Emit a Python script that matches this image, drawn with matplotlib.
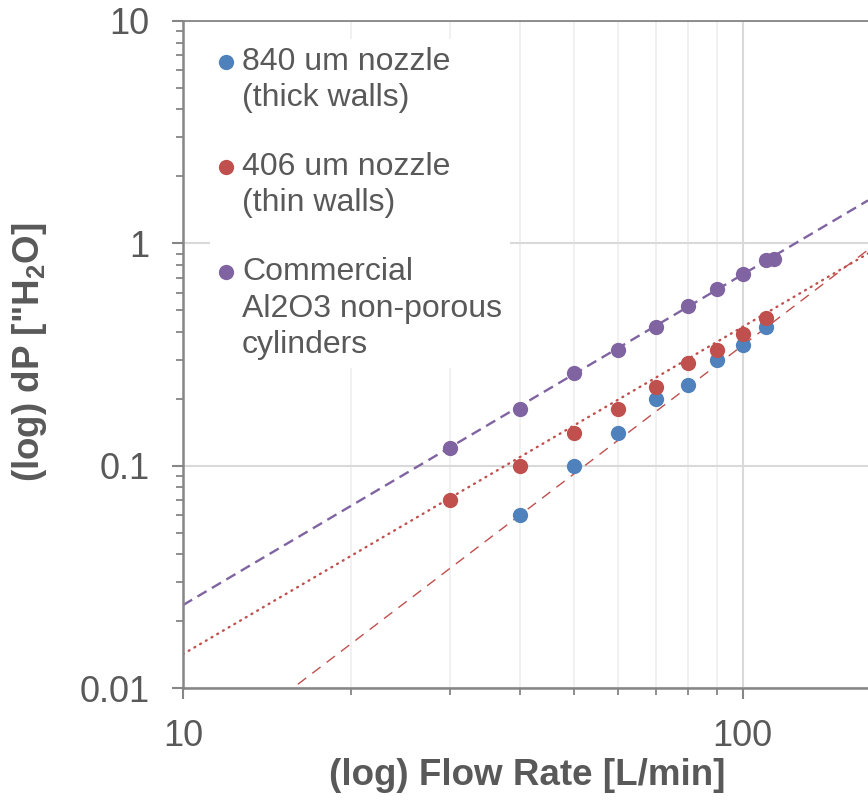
import matplotlib
matplotlib.use("Agg")
import matplotlib.pyplot as plt
import matplotlib.ticker as mticker
from matplotlib.legend_handler import HandlerLine2D
import numpy as np

plt.rcParams["font.family"] = ["Liberation Sans", "DejaVu Sans"]
plt.rcParams["mathtext.fontset"] = "custom"
plt.rcParams["mathtext.rm"] = "Liberation Sans"
plt.rcParams["mathtext.bf"] = "Liberation Sans:bold"

# data
thick_flow = [40, 50, 60, 70, 80, 90, 100, 110]
thick_dp = [0.06, 0.10, 0.14, 0.20, 0.23, 0.30, 0.35, 0.42]

thin_flow = [30, 40, 50, 60, 70, 80, 90, 100, 110]
thin_dp = [0.07, 0.10, 0.14, 0.18, 0.225, 0.29, 0.33, 0.39, 0.46]

comm_flow = [30, 40, 50, 60, 70, 80, 90, 100, 110, 114]
comm_dp = [0.12, 0.18, 0.26, 0.33, 0.42, 0.525, 0.625, 0.73, 0.845, 0.85]

# power trendlines y = a * x^b, as shown on the chart
thick_trend = (5.07e-5, 1.918)
thin_trend = (4.79e-4, 1.472)
comm_trend = (7.69e-4, 1.487)

labels = ["840 um nozzle\n(thick walls)",
          "406 um nozzle\n(thin walls)",
          "Commercial\nAl2O3 non-porous\ncylinders"]

BLUE = "#4F81BD"
RED = "#C0504D"
PURPLE = "#8064A2"
TEXT = "#595959"
AXIS = "#868686"

XMAX = 167.5


def power_line(trend, xx):
    a, b = trend
    return a * np.asarray(xx) ** b


class FirstLineHandler(HandlerLine2D):
    """Put the legend marker next to the first line of a multi-line label."""

    def __init__(self, lift, **kw):
        super().__init__(**kw)
        self.lift = lift

    def create_artists(self, legend, orig_handle, xdescent, ydescent,
                       width, height, fontsize, trans):
        arts = super().create_artists(legend, orig_handle, xdescent, ydescent,
                                      width, height, fontsize, trans)
        for a in arts:
            a.set_ydata(np.asarray(a.get_ydata()) + self.lift * fontsize)
        return arts


fig = plt.figure(figsize=(8.68, 8.05), dpi=100)
ax = fig.add_axes([183 / 868, 117 / 805, 685 / 868, 667 / 805])
ax.set_xscale("log")
ax.set_yscale("log")
ax.set_xlim(10, XMAX)
ax.set_ylim(0.01, 10)

# trendlines
xx = np.logspace(1, np.log10(XMAX), 200)
ax.plot(xx, power_line(comm_trend, xx), color=PURPLE, lw=1.7,
        dashes=(4.5, 2.6), zorder=2)
ax.plot(xx, power_line(thin_trend, xx), color=RED, lw=1.7,
        dashes=(0.4, 2.4), dash_capstyle="round", zorder=2)
ax.plot(xx, power_line(thick_trend, xx), color=RED, lw=1.0,
        dashes=(7.5, 5.5), zorder=2)

# points
h1, = ax.plot(thick_flow, thick_dp, "o", color=BLUE, ms=11, mew=0, zorder=3)
h2, = ax.plot(thin_flow, thin_dp, "o", color=RED, ms=11, mew=0, zorder=3)
h3, = ax.plot(comm_flow, comm_dp, "o", color=PURPLE, ms=11, mew=0, zorder=3)

# grid
ax.set_axisbelow(True)
ax.xaxis.set_major_locator(mticker.FixedLocator([10, 100]))
ax.xaxis.set_minor_locator(mticker.LogLocator(base=10, subs=np.arange(2, 10)))
ax.yaxis.set_major_locator(mticker.LogLocator(base=10))
ax.yaxis.set_minor_locator(mticker.LogLocator(base=10, subs=np.arange(2, 10)))
ax.grid(which="major", color="#D9D9D9", lw=1.5)
ax.grid(which="minor", axis="x", color="#F0F0F0", lw=1.3)
ax.grid(which="minor", axis="y", visible=False)

fmt = mticker.FuncFormatter(lambda v, _: f"{v:g}")
ax.xaxis.set_major_formatter(fmt)
ax.yaxis.set_major_formatter(fmt)
ax.xaxis.set_minor_formatter(mticker.NullFormatter())
ax.yaxis.set_minor_formatter(mticker.NullFormatter())

for side in ["left", "bottom", "top"]:
    ax.spines[side].set_color(AXIS)
ax.spines["left"].set_linewidth(1.8)
ax.spines["bottom"].set_linewidth(1.8)
ax.spines["top"].set_linewidth(1.3)
ax.spines["right"].set_visible(False)

ax.tick_params(which="major", direction="out", length=8, width=1.5,
               color=AXIS, labelcolor=TEXT, labelsize=26, top=False, right=False)
ax.tick_params(which="minor", direction="out", length=5, width=1.3,
               color=AXIS, top=False, right=False)
ax.tick_params(axis="y", which="major", pad=16)
ax.tick_params(axis="x", which="major", pad=14)

ax.set_xlabel("(log) Flow Rate [L/min]", fontsize=26.5, fontweight="bold",
              color=TEXT, va="center")
ax.xaxis.set_label_coords(0.502, -0.1305)
ax.set_ylabel(r'(log) dP ["H$_\mathbf{2}$O]', fontsize=26.5, fontweight="bold",
              color=TEXT, va="center")
ax.yaxis.set_label_coords(-0.2234, 0.504)

leg = ax.legend([h1, h2, h3], labels, loc="upper left",
                bbox_to_anchor=(27 / 685, 649 / 667), borderaxespad=0,
                fontsize=23, frameon=True, fancybox=False, framealpha=1,
                facecolor="white", edgecolor="none",
                handlelength=0.5, handletextpad=0.25, borderpad=0.25,
                labelspacing=1.22,
                handler_map={h1: FirstLineHandler(0.58),
                             h2: FirstLineHandler(0.58),
                             h3: FirstLineHandler(1.16)})
for t in leg.get_texts():
    t.set_color(TEXT)
    t.set_linespacing(1.27)

fig.savefig("out.png", dpi=100)
